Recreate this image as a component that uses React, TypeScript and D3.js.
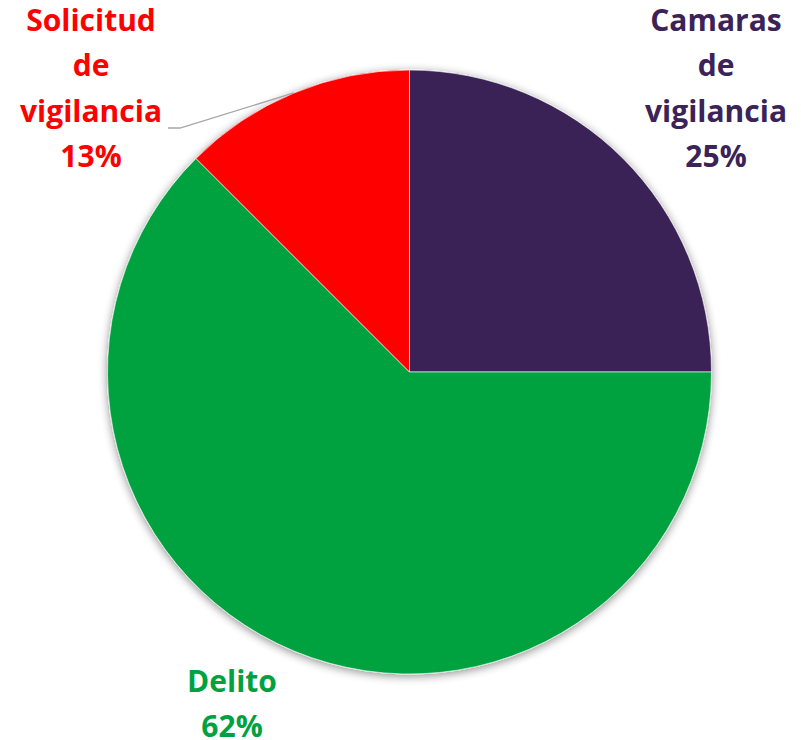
import * as d3 from 'd3';
import React from 'react';

const categories = ['Camaras de vigilancia', 'Delito', 'Solicitud de vigilancia'];
const values = [25, 62.5, 12.5];
const percentLabels = ['25%', '62%', '13%'];
const colors = ['#3B2357', '#00A23F', '#FF0000'];
const labelLines = [
  ['Camaras', 'de', 'vigilancia'],
  ['Delito'],
  ['Solicitud', 'de', 'vigilancia'],
];

const W = 801;
const H = 740;
const cx = 409.5;
const cy = 372;
const R = 302;
const LINE = 45.3;

// label anchor = x centre and baseline of first line
const labelPos = [
  { x: 716, y: 31 },
  { x: 232, y: 692 },
  { x: 91, y: 31 },
];

const App = () => {
  const pie = d3.pie<number>().sort(null).value(d => d);
  const arcs = pie(values);
  const arc = d3.arc<d3.PieArcDatum<number>>().innerRadius(0).outerRadius(R);

  // leader line for the small slice
  const small = arcs[2];
  const mid = (small.startAngle + small.endAngle) / 2;
  const endX = cx + R * Math.sin(mid);
  const endY = cy - R * Math.cos(mid);
  const lp = labelPos[2];
  const leader = d3.line()([
    [lp.x + 77, lp.y + 97],
    [lp.x + 89, lp.y + 97],
    [endX, endY],
  ]);

  return (
    <svg width={W} height={H} style={{ position: 'absolute', left: 0, top: 0 }}>
      <defs>
        <filter id="shadow" x="-10%" y="-10%" width="120%" height="120%">
          <feGaussianBlur in="SourceAlpha" stdDeviation="5" />
          <feOffset dx="0" dy="2" result="b" />
          <feComponentTransfer>
            <feFuncA type="linear" slope="0.45" />
          </feComponentTransfer>
          <feMerge>
            <feMergeNode />
            <feMergeNode in="SourceGraphic" />
          </feMerge>
        </filter>
      </defs>
      <rect width={W} height={H} fill="#fff" />
      <g transform={`translate(${cx},${cy})`} filter="url(#shadow)">
        {arcs.map((a, i) => (
          <path key={categories[i]} d={arc(a) || ''} fill={colors[i]} stroke="#fff" strokeWidth={0.6} />
        ))}
      </g>
      <path d={leader || ''} fill="none" stroke="#A6A6A6" strokeWidth={1.3} />
      {labelLines.map((lines, i) => (
        <text
          key={categories[i]}
          x={labelPos[i].x}
          y={labelPos[i].y}
          fill={colors[i]}
          textAnchor="middle"
          fontFamily="'Open Sans', Lato, sans-serif"
          fontWeight="bold"
          fontSize={30}
        >
          {[...lines, percentLabels[i]].map((t, j) => (
            <tspan key={j} x={labelPos[i].x} y={labelPos[i].y + j * LINE}>{t}</tspan>
          ))}
        </text>
      ))}
    </svg>
  );
};

export default App;
